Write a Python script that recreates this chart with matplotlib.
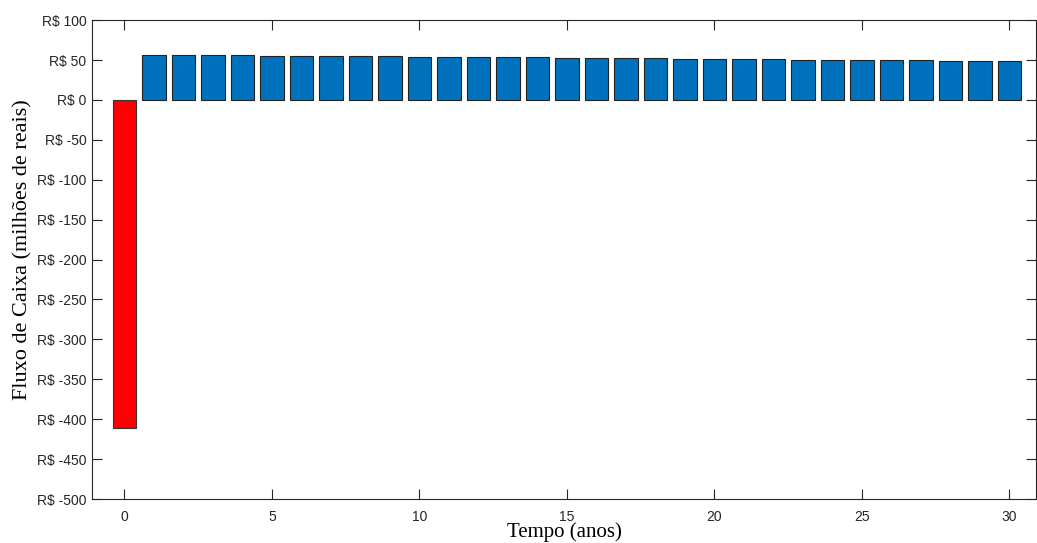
import matplotlib.pyplot as plt
import numpy as np

plt.rcParams['text.parse_math'] = False

anos = list(range(0, 31))
investimento = -411.0  # ano 0
fluxos = [56.8, 56.6, 56.0, 55.8, 55.6, 55.4, 54.9, 54.7, 54.5, 54.3,
          53.9, 53.7, 53.5, 53.3, 52.9, 52.6, 52.4, 52.2, 51.8, 51.5,
          51.3, 51.1, 50.6, 50.4, 50.2, 50.0, 49.4, 49.2, 49.0, 48.8]
yticks = list(range(100, -501, -50))
xticks = [0, 5, 10, 15, 20, 25, 30]

cinza = '#262626'

fig = plt.figure(figsize=(10.37, 5.43), dpi=100)
ax = fig.add_axes([0.0887, 0.081, 0.9103, 0.882])

ax.bar(anos[0], investimento, width=0.8, color='#FF0000', edgecolor='#333333', linewidth=0.8)
ax.bar(anos[1:], fluxos, width=0.8, color='#0072BD', edgecolor='#222222', linewidth=0.8)

ax.set_xlim(-1.1, 30.9)
ax.set_ylim(-500, 100)
ax.set_yticks(yticks)
ax.set_yticklabels(['R$ %d' % v for v in yticks])
ax.set_xticks(xticks)

ax.tick_params(direction='in', length=7, width=0.8, colors=cinza, labelsize=10,
               top=True, right=True, labeltop=False, labelright=False)
for lbl in ax.get_xticklabels() + ax.get_yticklabels():
    lbl.set_family('Liberation Sans')
ax.tick_params(axis='x', pad=8)
ax.tick_params(axis='y', pad=4)
for sp in ax.spines.values():
    sp.set_color(cinza)
    sp.set_linewidth(0.8)

ax.set_xlabel('Tempo (anos)', family='Liberation Serif', fontsize=15, color='black', labelpad=-1)
ax.set_ylabel('Fluxo de Caixa (milhões de reais)', family='Liberation Serif', fontsize=16,
              color='black', labelpad=3)
ax.yaxis.set_label_coords(-0.063, 0.52)

fig.savefig('out.png', dpi=100)
